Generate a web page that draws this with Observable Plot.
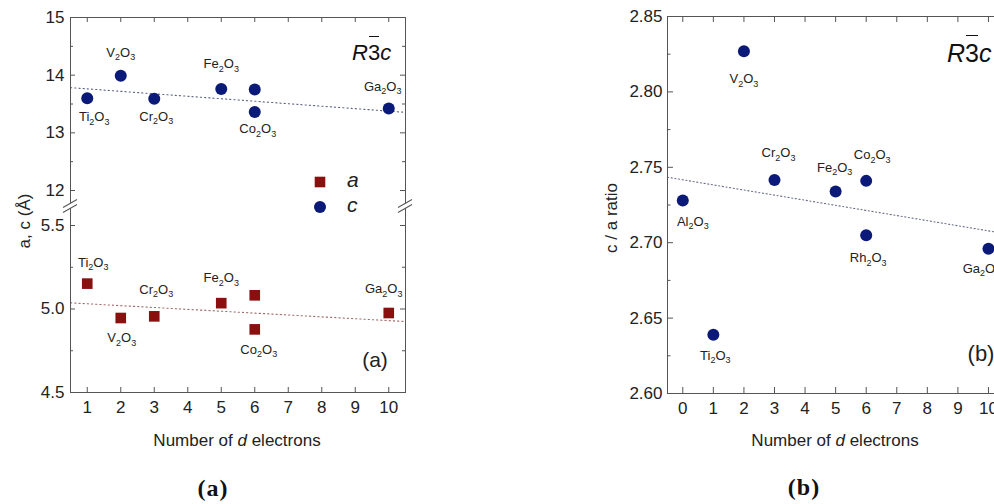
<!DOCTYPE html>
<html>
<head>
<meta charset="utf-8">
<script src="https://cdn.jsdelivr.net/npm/d3@7"></script>
<script src="https://cdn.jsdelivr.net/npm/@observablehq/plot@0.6"></script>
<style>
html, body { margin: 0; padding: 0; background: #fff; }
#wrap { position: relative; width: 994px; height: 504px; overflow: hidden; background: #fff;
  font-family: "Liberation Sans", Arial, sans-serif; color: #222; }
.abs { position: absolute; white-space: nowrap; line-height: 1; }
.center { transform: translate(-50%, -50%); }
.ytitle { transform: translate(-50%, -50%) rotate(-90deg); font-size: 17px; }
.xtitle { font-size: 17px; }
.cap { font-family: "Liberation Serif", "DejaVu Serif", serif; font-weight: bold; font-size: 24px; letter-spacing: 1px; color: #111; }
.sg { font-size: 22px; color: #111; }
.sg i { font-style: italic; }
.ob { position: relative; }
.ob::after { content: ""; position: absolute; left: 1px; right: 1px; top: -4px; border-top: 1.6px solid #111; }
.panel { font-size: 21px; }
.leg { font-size: 21px; font-style: italic; }
</style>
</head>
<body>
<div id="wrap"></div>
<script>
// ---------------- data ----------------
// panel (a): lattice parameters vs number of d electrons
const dA = [1, 2, 3, 5, 6, 6, 10];
const namesA = ["Ti2O3", "V2O3", "Cr2O3", "Fe2O3", "Rh2O3", "Co2O3", "Ga2O3"];
const aValues = [5.152, 4.946, 4.956, 5.035, 5.082, 4.878, 4.976];
const cValues = [13.60, 13.99, 13.59, 13.76, 13.75, 13.36, 13.42];
const labeledA = ["Ti2O3", "V2O3", "Cr2O3", "Fe2O3", "Co2O3", "Ga2O3"];
const trendX_A = [0.5, 10.5];
const trendA_a = [5.037, 4.925];
const trendA_c = [13.784, 13.355];

// panel (b): c/a ratio vs number of d electrons
const dB = [0, 1, 2, 3, 5, 6, 6, 10];
const namesB = ["Al2O3", "Ti2O3", "V2O3", "Cr2O3", "Fe2O3", "Co2O3", "Rh2O3", "Ga2O3"];
const ratioB = [2.728, 2.639, 2.827, 2.7416, 2.734, 2.741, 2.705, 2.696];
const trendX_B = [-0.5, 10.4];
const trendB = [2.7434, 2.7065];

// ticks
const xTicksA = [1, 2, 3, 4, 5, 6, 7, 8, 9, 10];
const xTicksB = [0, 1, 2, 3, 4, 5, 6, 7, 8, 9, 10];
const yTicksUpper = [12, 13, 14, 15];
const yMinorUpper = [12.5, 13.5, 14.5];
const yTicksLower = [4.5, 5.0, 5.5];
const yMinorLower = [4.75, 5.25];
const yTicksB = [2.60, 2.65, 2.70, 2.75, 2.80, 2.85];
const yMinorB = [2.625, 2.675, 2.725, 2.775, 2.825];
const seriesNames = ["a", "c"];

// ---------------- styles / layout ----------------
const BLUE = "#0b1a78", RED = "#8a1010", AXIS = "#555", TXT = "#222";
const TICKFONT = 17;
const wrap = document.getElementById("wrap");

// broken axis for panel (a): lower segment and upper segment on a shared pseudo-axis
const lowerSeg = {domain: [4.5, 5.5], span: [0, 167]};
const upperSeg = {domain: [12, 15], span: [202, 375]};
const breakAt = 186;
function yMap(v) {
  const s = v > 8 ? upperSeg : lowerSeg;
  return s.span[0] + (v - s.domain[0]) / (s.domain[1] - s.domain[0]) * (s.span[1] - s.span[0]);
}

const rowsA = dA.map((d, i) => ({d, name: namesA[i], a: aValues[i], c: cValues[i]}));
const rowsB = dB.map((d, i) => ({d, name: namesB[i], r: ratioB[i]}));

const offC = {Ti2O3: [7, 19], V2O3: [0, -23], Cr2O3: [2, 18], Fe2O3: [0, -25], Co2O3: [3, 17], Ga2O3: [-6, -22]};
const offA = {Ti2O3: [6, -21], V2O3: [1, 20], Cr2O3: [2, -27], Fe2O3: [0, -25], Co2O3: [4, 20], Ga2O3: [-5, -24]};
const offB = {Al2O3: [10, 21], Ti2O3: [2, 21], V2O3: [0, 28], Cr2O3: [4, -27], Fe2O3: [-1, -24], Co2O3: [6, -26], Rh2O3: [2, 23], Ga2O3: [-7, 20]};

function frameTicks(xt, yt, yFn, len, fw, fh) {
  const o = {stroke: AXIS, strokeWidth: 1};
  return [
    Plot.ruleX(xt, {...o, x: d => d, insetTop: fh - len}),
    Plot.ruleX(xt, {...o, x: d => d, insetBottom: fh - len}),
    Plot.ruleY(yt, {...o, y: yFn, insetRight: fw - len}),
    Plot.ruleY(yt, {...o, y: yFn, insetLeft: fw - len})
  ];
}

function labelMarks(rows, yFn, offs, filterNames) {
  return rows.filter(r => offs[r.name] && (!filterNames || filterNames.includes(r.name)))
    .map(r => Plot.text([r], {x: "d", y: yFn, text: "name", dx: offs[r.name][0], dy: offs[r.name][1],
      fontSize: 13, fill: TXT}));
}

function subscriptify(svg) {
  d3.select(svg).selectAll("text").each(function () {
    const t = this.textContent;
    if (!/^[A-Z][a-z]?\dO\d$/.test(t)) return;
    const el = d3.select(this);
    el.text(null);
    let shift = 0;
    for (const p of t.match(/[A-Za-z]+|\d+/g)) {
      if (/\d/.test(p)) {
        el.append("tspan").attr("dy", 3.5 - shift).attr("font-size", 9).text(p);
        shift = 3.5;
      } else {
        el.append("tspan").attr("dy", -shift).text(p);
        shift = 0;
      }
    }
  });
}

const baseStyle = {fontFamily: "Liberation Sans, Arial, sans-serif", fontSize: "16px", color: TXT, background: "transparent", overflow: "visible"};

// ---------------- panel (a) ----------------
const WA = 420, HA = 420, mA = {top: 17, left: 70, right: 15, bottom: 28};
const fwA = WA - mA.left - mA.right, fhA = HA - mA.top - mA.bottom;
const yTickPosA = [...yTicksLower, ...yTicksUpper].map(yMap);
const yLabelA = new Map([...yTicksLower.map(v => [yMap(v), d3.format(".1f")(v)]), ...yTicksUpper.map(v => [yMap(v), d3.format("d")(v)])]);
const trendRowsA = trendX_A.map((x, i) => ({x, a: trendA_a[i], c: trendA_c[i]}));

const plotA = Plot.plot({
  width: WA, height: HA,
  marginTop: mA.top, marginLeft: mA.left, marginRight: mA.right, marginBottom: mA.bottom,
  style: baseStyle,
  x: {domain: [0.5, 10.5]},
  y: {domain: [0, 375]},
  marks: [
    Plot.line(trendRowsA, {x: "x", y: d => yMap(d.c), stroke: "#5a6080", strokeWidth: 1.1, strokeDasharray: "1.2 3"}),
    Plot.line(trendRowsA, {x: "x", y: d => yMap(d.a), stroke: "#a06868", strokeWidth: 1.1, strokeDasharray: "1.2 3"}),
    Plot.dot(rowsA, {x: "d", y: d => yMap(d.c), r: 6, fill: BLUE}),
    Plot.dot(rowsA, {x: "d", y: d => yMap(d.a), r: 6, symbol: "square", fill: RED}),
    ...labelMarks(rowsA, d => yMap(d.c), offC, labeledA),
    ...labelMarks(rowsA, d => yMap(d.a), offA, labeledA),
    ...frameTicks(xTicksA, yTickPosA, d => d, 5, fwA, fhA),
    ...frameTicks([], [...yMinorLower, ...yMinorUpper].map(yMap), d => d, 3, fwA, fhA),
    Plot.frame({stroke: AXIS, strokeWidth: 1}),
    Plot.axisX({ticks: xTicksA, tickSize: 0, tickPadding: 8, label: null, fill: TXT, fontSize: TICKFONT}),
    Plot.axisY({ticks: yTickPosA, tickFormat: d => yLabelA.get(d), tickSize: 0, tickPadding: 6, label: null, fill: TXT, fontSize: TICKFONT})
  ]
});
subscriptify(plotA);
// axis break marks
{
  const ys = plotA.scale("y").apply(breakAt);
  const g = d3.select(plotA).append("g");
  for (const xa of [mA.left, WA - mA.right]) {
    g.append("polygon").attr("points", `${xa - 7},${ys + 1.5} ${xa + 7},${ys - 6.5} ${xa + 7},${ys - 1.5} ${xa - 7},${ys + 6.5}`).attr("fill", "#fff");
    g.append("line").attr("x1", xa - 7).attr("y1", ys + 1.5).attr("x2", xa + 7).attr("y2", ys - 6.5).attr("stroke", AXIS).attr("stroke-width", 1.1);
    g.append("line").attr("x1", xa - 7).attr("y1", ys + 6.5).attr("x2", xa + 7).attr("y2", ys - 1.5).attr("stroke", AXIS).attr("stroke-width", 1.1);
  }
}
plotA.style.position = "absolute"; plotA.style.left = "0px"; plotA.style.top = "0px";
wrap.appendChild(plotA);

// ---------------- panel (b) ----------------
const WB = 420, HB = 420, mB = {top: 16, left: 70, right: 16.8, bottom: 27};
const fwB = WB - mB.left - mB.right, fhB = HB - mB.top - mB.bottom;
const trendRowsB = trendX_B.map((x, i) => ({x, r: trendB[i]}));
const plotB = Plot.plot({
  width: WB, height: HB,
  marginTop: mB.top, marginLeft: mB.left, marginRight: mB.right, marginBottom: mB.bottom,
  style: baseStyle,
  x: {domain: [-0.5, 10.4]},
  y: {domain: [2.60, 2.85]},
  marks: [
    Plot.line(trendRowsB, {x: "x", y: "r", stroke: "#6a6f88", strokeWidth: 1.1, strokeDasharray: "1.2 2.5"}),
    Plot.dot(rowsB, {x: "d", y: "r", r: 6, fill: BLUE}),
    ...labelMarks(rowsB, "r", offB, null),
    ...frameTicks(xTicksB, yTicksB, d => d, 6, fwB, fhB),
    ...frameTicks([], yMinorB, d => d, 3.5, fwB, fhB),
    Plot.frame({stroke: AXIS, strokeWidth: 1}),
    Plot.axisX({ticks: xTicksB, tickSize: 0, tickPadding: 8, label: null, fill: TXT, fontSize: TICKFONT}),
    Plot.axisY({ticks: yTicksB, tickFormat: d3.format(".2f"), tickSize: 0, tickPadding: 5, label: null, fill: TXT, fontSize: TICKFONT})
  ]
});
subscriptify(plotB);
plotB.style.position = "absolute"; plotB.style.left = "597px"; plotB.style.top = "0px";
wrap.appendChild(plotB);

// ---------------- HTML text ----------------
function addDiv(cls, html, left, top) {
  const el = document.createElement("div");
  el.className = "abs " + cls;
  el.innerHTML = html;
  el.style.left = left + "px";
  el.style.top = top + "px";
  wrap.appendChild(el);
  return el;
}
const sgHTML = '<i>R</i><span class="ob">3</span><i>c</i>';
addDiv("sg", sgHTML, 352, 42);
const sgB = addDiv("sg", sgHTML, 947, 41); sgB.style.fontSize = "25px";
addDiv("xtitle center", "Number of <i>d</i> electrons", 237, 440);
addDiv("xtitle center", "Number of <i>d</i> electrons", 835, 440);
addDiv("ytitle", "a, c (Å)", 24, 221);
addDiv("ytitle", "c / a ratio", 611, 218);
addDiv("panel center", "(a)", 375, 359);
addDiv("panel center", "(b)", 981, 354).style.fontSize = "22px";
addDiv("cap center", "(a)", 213, 488);
addDiv("cap center", "(b)", 804, 487);

// legend (panel a)
const legSym = {a: '<svg width="12" height="12" style="position:absolute;left:-6px;top:-6px"><rect x="0.7" y="0.7" width="10.6" height="10.6" fill="' + RED + '"/></svg>',
                c: '<svg width="14" height="14" style="position:absolute;left:-7px;top:-7px"><circle cx="7" cy="7" r="6" fill="' + BLUE + '"/></svg>'};
const legY = {a: 182, c: 207};
for (const s of seriesNames) {
  addDiv("", legSym[s], 320, legY[s]);
  addDiv("leg", s, 347, legY[s] - 13);
}
</script>
</body>
</html>
